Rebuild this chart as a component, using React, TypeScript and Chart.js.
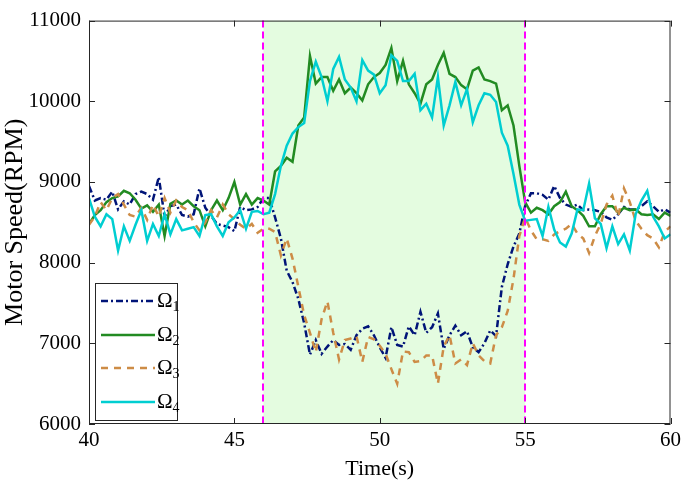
import React, { useEffect, useRef } from "react";
import { Chart, registerables } from "chart.js";

Chart.register(...registerables);

// Time base: 0.2 s sampling from 40 s to 60 s
const TIME: number[] = Array.from({ length: 101 }, (_, i) => Math.round((40 + 0.2 * i) * 10) / 10);

const OMEGA1 = [
  8950, 8770, 8800, 8780, 8880, 8660, 8760, 8720, 8850, 8880,
  8850, 8780, 9060, 8570, 8700, 8720, 8590, 8570, 8600, 8920,
  8680, 8580, 8480, 8460, 8440, 8390, 8690, 8650, 8660, 8690,
  8800, 8800, 8560, 8300, 7900, 7760, 7550, 7250, 6860, 7040,
  6870, 6960, 7040, 6980, 6990, 6920, 7100, 7180, 7210, 7100,
  6950, 6820, 7200, 6980, 6960, 7210, 7100, 7390, 7130, 7200,
  7370, 6930, 7100, 7220, 7100, 7150, 6950, 6890, 7000, 7160,
  7090, 7700, 7980, 8200, 8360, 8700, 8860, 8860, 8840, 8780,
  8950, 8800, 8720, 8690, 8720, 8650, 8660, 8650, 8630, 8560,
  8530, 8600, 8690, 8660, 8660, 8700, 8760, 8700, 8630, 8660,
  8620,
];

const OMEGA2 = [
  8480, 8590, 8650, 8750, 8800, 8820, 8890, 8860, 8780, 8670,
  8710, 8630, 8720, 8330, 8730, 8770, 8720, 8770, 8700, 8650,
  8450, 8650, 8770, 8650, 8800, 9000, 8720, 8850, 8720, 8800,
  8770, 8720, 9130, 9200, 9300, 9250, 9700, 9800, 10560, 10220,
  10300, 10300, 10130, 10270, 10100, 10170, 10100, 10010, 10210, 10300,
  10350, 10450, 10660, 10250, 10500, 10210, 10100, 9970, 10210, 10270,
  10450, 10600, 10340, 10300, 10200, 10150, 10380, 10420, 10270, 10250,
  10220, 9890, 9950, 9700, 9200, 8750, 8620, 8680, 8650, 8600,
  8700, 8750, 8880, 8700, 8650, 8580, 8450, 8450, 8600, 8700,
  8700, 8620, 8680, 8650, 8660, 8600, 8590, 8600, 8540, 8620,
  8580,
];

const OMEGA3 = [
  8470, 8570, 8750, 8650, 8800, 8850, 8720, 8590, 8570, 8680,
  8530, 8720, 8570, 8800, 8620, 8770, 8690, 8650, 8500, 8400,
  8500, 8650, 8560, 8720, 8600, 8540, 8470, 8420, 8480, 8370,
  8420, 8420, 8380, 8090, 8300, 8050, 7700, 7350, 7130, 6890,
  7300, 7520, 7130, 6800, 7040, 7060, 7090, 6770, 7080, 7050,
  6970, 6870, 6680, 6500, 6900, 6890, 6770, 6780, 6850, 6850,
  6500, 6960, 7100, 6750, 6800, 6730, 7000, 6850, 6780, 6750,
  7100, 7200, 7400, 7800, 8330, 8560, 8400, 8290, 8290, 8270,
  8350, 8390, 8420, 8480, 8360, 8300, 8120, 8330, 8480, 8720,
  8830, 8570, 8920, 8750, 8520, 8420, 8340, 8300, 8190, 8380,
  8450,
];

const OMEGA4 = [
  8800, 8570, 8450, 8600, 8540, 8150, 8450, 8270, 8470, 8650,
  8270, 8480, 8330, 8600, 8350, 8540, 8400, 8420, 8440, 8330,
  8590, 8600, 8450, 8330, 8500, 8560, 8650, 8420, 8630, 8640,
  8600, 8620, 8850, 9200, 9450, 9600, 9680, 9730, 10250, 10490,
  10300, 10000, 10400, 10550, 10270, 10170, 10000, 10510, 10380, 10330,
  10100, 10200, 10570, 10500, 10250, 10250, 10340, 9890, 9970, 9800,
  10300, 9700, 9950, 10240, 9950, 10150, 9740, 9950, 10100, 10080,
  9990, 9610, 9450, 9100, 8720, 8520, 8530, 8540, 8330, 8690,
  8410, 8250, 8200, 8360, 8660, 8650, 8980, 8550, 8480, 8180,
  8450, 8230, 8350, 8150, 8600, 8770, 8890, 8570, 8450, 8300,
  8350,
];

const SERIES_NAMES = ["1", "2", "3", "4"];
const SERIES_DATA = [OMEGA1, OMEGA2, OMEGA3, OMEGA4];
const SERIES_COLORS = ["rgb(0,20,120)", "rgb(34,139,34)", "rgb(205,140,70)", "rgb(0,206,209)"];
const SERIES_DASH: number[][] = [[7, 3, 2, 3], [], [7, 6], []];

const SHADE_START = 46;
const SHADE_END = 55;
const X_TICKS = [40, 45, 50, 55, 60];
const Y_TICKS = [6000, 7000, 8000, 9000, 10000, 11000];

const AXIS_COLOR = "#262626";
const FONT = "'Liberation Serif', 'Times New Roman', serif";

const overlayPlugin = {
  id: "overlay",
  beforeDatasetsDraw(chart: any) {
    const { ctx, chartArea, scales } = chart;
    const { top, bottom } = chartArea;
    const x0 = scales.x.getPixelForValue(SHADE_START);
    const x1 = scales.x.getPixelForValue(SHADE_END);
    ctx.save();
    ctx.fillStyle = "rgb(228,252,224)";
    ctx.fillRect(x0, top, x1 - x0, bottom - top);
    ctx.restore();
  },
  afterDatasetsDraw(chart: any) {
    const { ctx, chartArea, scales } = chart;
    const { top, bottom } = chartArea;
    ctx.save();
    ctx.strokeStyle = "#ff00ff";
    ctx.lineWidth = 2;
    ctx.setLineDash([7, 4]);
    for (const v of [SHADE_START, SHADE_END]) {
      const px = Math.round(scales.x.getPixelForValue(v));
      ctx.beginPath();
      ctx.moveTo(px, top);
      ctx.lineTo(px, bottom);
      ctx.stroke();
    }
    ctx.restore();
  },
  afterDraw(chart: any) {
    const { ctx, chartArea, scales } = chart;
    const { left, right, top, bottom } = chartArea;
    ctx.save();
    ctx.strokeStyle = AXIS_COLOR;
    ctx.lineWidth = 1;
    ctx.setLineDash([]);
    ctx.strokeRect(left + 0.5, top + 0.5, right - left - 1, bottom - top - 1);
    const tl = 6;
    ctx.beginPath();
    for (const v of X_TICKS) {
      const px = Math.round(scales.x.getPixelForValue(v)) + 0.5;
      ctx.moveTo(px, bottom);
      ctx.lineTo(px, bottom - tl);
      ctx.moveTo(px, top);
      ctx.lineTo(px, top + tl);
    }
    for (const v of Y_TICKS) {
      const py = Math.round(scales.y.getPixelForValue(v)) + 0.5;
      ctx.moveTo(left, py);
      ctx.lineTo(left + tl, py);
      ctx.moveTo(right, py);
      ctx.lineTo(right - tl, py);
    }
    ctx.stroke();

    // Legend
    const lx = 95, ly = 283, lw = 82, lh = 137;
    ctx.fillStyle = "#ffffff";
    ctx.fillRect(lx, ly, lw, lh);
    ctx.strokeStyle = AXIS_COLOR;
    ctx.lineWidth = 1;
    ctx.strokeRect(lx + 0.5, ly + 0.5, lw, lh);
    const rowY = [301, 335, 368, 402];
    for (let i = 0; i < 4; i++) {
      const yy = rowY[i];
      ctx.strokeStyle = SERIES_COLORS[i];
      ctx.lineWidth = 2.5;
      ctx.setLineDash(SERIES_DASH[i]);
      ctx.beginPath();
      ctx.moveTo(101, yy);
      ctx.lineTo(155, yy);
      ctx.stroke();
      ctx.setLineDash([]);
      ctx.fillStyle = "#000000";
      ctx.textBaseline = "middle";
      ctx.textAlign = "left";
      ctx.font = `21px ${FONT}`;
      ctx.fillText("Ω", 157, yy);
      const w = ctx.measureText("Ω").width;
      ctx.font = `14px ${FONT}`;
      ctx.fillText(SERIES_NAMES[i], 157 + w, yy + 6);
    }
    ctx.restore();
  },
};

export default function App() {
  const canvasRef = useRef<HTMLCanvasElement | null>(null);

  useEffect(() => {
    const canvas = canvasRef.current;
    if (!canvas) return;
    const datasets = SERIES_DATA.map((arr, i) => ({
      label: "Ω" + SERIES_NAMES[i],
      data: TIME.map((t, j) => ({ x: t, y: arr[j] })),
      borderColor: SERIES_COLORS[i],
      backgroundColor: SERIES_COLORS[i],
      borderWidth: 2.5,
      borderDash: SERIES_DASH[i],
      pointRadius: 0,
      tension: 0,
      fill: false,
      order: 3 - i,
    }));
    const chart = new Chart(canvas, {
      type: "line",
      data: { datasets },
      plugins: [overlayPlugin],
      options: {
        animation: false,
        responsive: false,
        devicePixelRatio: 1,
        layout: { padding: { left: 0, top: 7, right: 8, bottom: 0 } },
        plugins: { legend: { display: false }, tooltip: { enabled: false } },
        scales: {
          x: {
            type: "linear",
            min: 40,
            max: 60,
            afterFit: (s: any) => { s.height = 61; },
            afterBuildTicks: (s: any) => { s.ticks = X_TICKS.map((v) => ({ value: v })); },
            grid: { display: false, drawTicks: false },
            border: { display: false },
            ticks: { color: "#000", font: { family: FONT, size: 21 }, padding: 4, maxRotation: 0, callback: (v: any) => String(v) },
            title: { display: true, text: "Time(s)", color: "#000", font: { family: FONT, size: 22 }, padding: { top: 0, bottom: 3 } },
          },
          y: {
            type: "linear",
            min: 6000,
            max: 11000,
            afterFit: (s: any) => { s.width = 89; },
            afterBuildTicks: (s: any) => { s.ticks = Y_TICKS.map((v) => ({ value: v })); },
            grid: { display: false, drawTicks: false },
            border: { display: false },
            ticks: { color: "#000", font: { family: FONT, size: 21 }, padding: 8, callback: (v: any) => String(v) },
            title: { display: true, text: "Motor Speed(RPM)", color: "#000", font: { family: FONT, size: 26 }, padding: { top: 0, bottom: 0 } },
          },
        },
      },
    });
    return () => chart.destroy();
  }, []);

  return (
    <div style={{ position: "fixed", left: 0, top: 0, width: 685, height: 485, background: "#fff" }}>
      <canvas ref={canvasRef} width={685} height={485} style={{ width: 685, height: 485, display: "block" }} />
    </div>
  );
}
